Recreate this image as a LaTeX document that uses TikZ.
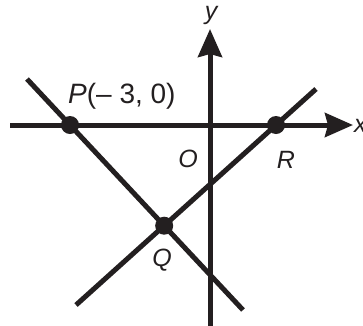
\documentclass[tikz,border=0pt]{standalone}
\usepackage{fontspec}
\setmainfont{Liberation Sans}
\usetikzlibrary{arrows.meta}
\definecolor{ink}{HTML}{231F20}
\tikzset{
  axisline/.style={ink, line width=5pt, -{Stealth[length=28pt,width=24pt,inset=3pt]}},
  graphline/.style={ink, line width=5pt},
  dot/.style={circle, fill=ink, inner sep=0pt, minimum size=18pt},
  lab/.style={text=ink, font=\fontsize{25}{25}\selectfont\itshape, inner sep=0pt},
}
\begin{document}
\begin{tikzpicture}[x=1pt,y=-1pt]
  \useasboundingbox (0,0) rectangle (363,325);
  % axes
  \coordinate (xs) at (10,125);
  \coordinate (xe) at (353,125);
  \coordinate (ys) at (210,326);
  \coordinate (ye) at (210,29);
  \draw[axisline] (xs) -- (xe);
  \draw[axisline] (ys) -- (ye);
  % lines
  \coordinate (a1) at (27,79);
  \coordinate (a2) at (243,310);
  \coordinate (b1) at (76,305);
  \coordinate (b2) at (316,89);
  \draw[graphline] (a1) -- (a2);
  \draw[graphline] (b1) -- (b2);
  % points
  \node[dot] (P) at (intersection of a1--a2 and xs--xe) {};
  \node[dot] (R) at (intersection of b1--b2 and xs--xe) {};
  \node[dot] (Q) at (intersection of a1--a2 and b1--b2) {};
  % labels
  \node[lab, anchor=base west, font=\fontsize{28}{28}\selectfont] (Plab) at (68,103) {\itshape P\upshape(– 3, 0)};
  \node[lab, anchor=base] (Olab) at (188,167) {O};
  \node[lab, anchor=base] (Rlab) at (286,168) {R};
  \node[lab, anchor=base] (Qlab) at (162,266) {Q};
  \node[lab, anchor=base] (ylab) at (211,19) {y};
  \node[lab, anchor=base west] (xlab) at (354,132) {x};
\end{tikzpicture}
\end{document}
